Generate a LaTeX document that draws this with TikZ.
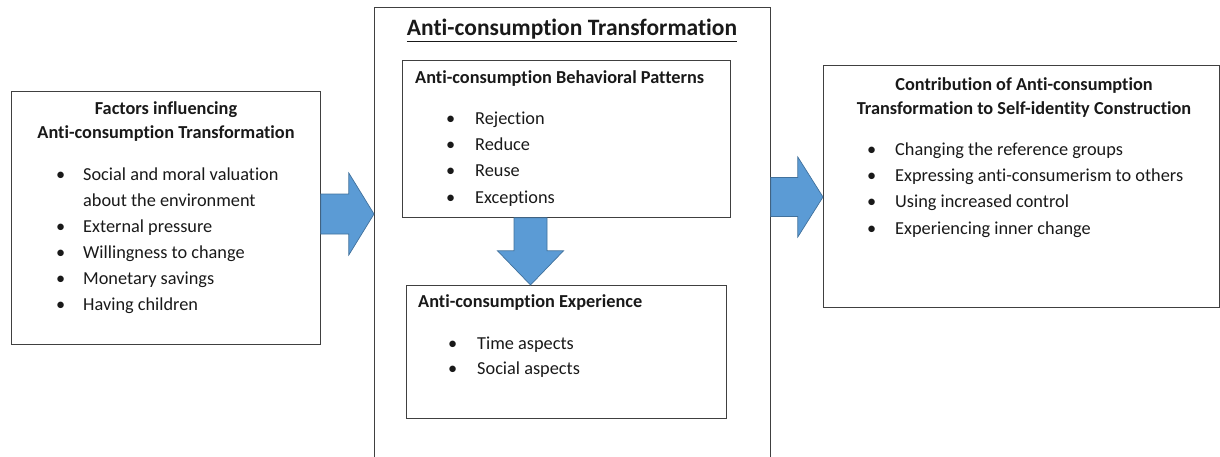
\documentclass[tikz,border=0pt]{standalone}
\usepackage{fontspec}
\setmainfont{Carlito}[Ligatures=NoCommon]
\usetikzlibrary{positioning,calc}

\definecolor{arrowblue}{HTML}{5B9BD5}
\definecolor{arrowedge}{HTML}{41719C}

\tikzset{
  box/.style={draw=black!75, line width=0.8pt, anchor=north west, inner sep=0pt},
  item/.style={anchor=west, inner sep=0pt, text height=1.5ex, text depth=0.3ex,
    font=\fontsize{18.3}{21}\selectfont, text=black!90},
  head/.style={inner sep=0pt, text height=1.5ex, text depth=0.3ex,
    font=\bfseries\fontsize{18.3}{21}\selectfont, text=black!90},
  blockarrow/.style={fill=arrowblue, draw=arrowedge, line width=0.7pt},
}

\begin{document}
\begin{tikzpicture}[x=1pt,y=-1pt]
    \useasboundingbox (0,0) rectangle (1220,456);
    % boxes
    \node[box, minimum width=309pt, minimum height=253pt] (factors) at (11,91) {};
    \node[box, minimum width=396pt, minimum height=470pt] (mid) at (374,7) {};
    \node[box, minimum width=328pt, minimum height=157pt] (patterns) at (402,60) {};
    \node[box, minimum width=320pt, minimum height=133pt] (experience) at (406,285) {};
    \node[box, minimum width=396pt, minimum height=242pt] (contrib) at (823,65) {};

    % title of the middle box
    \node[head, font=\bfseries\fontsize{23.5}{26}\selectfont] (midtitle) at (572,33)
        {\underline{Anti-consumption Transformation}};

    % left box
    \node[head] (facthead1) at (166,112) {Factors influencing};
    \node[head] (facthead2) at (166,136) {Anti-consumption Transformation};
    \foreach \txt [count=\i] in {Social and moral valuation, External pressure,
        Willingness to change, Monetary savings, Having children} {
        \pgfmathsetmacro{\yy}{\i==1 ? 177.5 : 203.5+26*(\i-1)}
        \node[item] (factbul\i) at (56,\yy) {\textbullet};
        \node[item] (fact\i) at (83,\yy) {\txt};
    }
    \node[item] (fact1b) at (83,203.5) {about the environment};

    % behavioral patterns
    \node[head, anchor=west] (pathead) at (415,81) {Anti-consumption Behavioral Patterns};
    \foreach \txt [count=\i] in {Rejection, Reduce, Reuse, Exceptions} {
        \node[item] (patbul\i) at (446,{121.5+26.3*(\i-1)}) {\textbullet};
        \node[item] (pat\i) at (475,{121.5+26.3*(\i-1)}) {\txt};
    }

    % experience
    \node[head, anchor=west] (exphead) at (418,305) {Anti-consumption Experience};
    \foreach \txt [count=\i] in {Time aspects, Social aspects} {
        \node[item] (expbul\i) at (448,{346.5+25.5*(\i-1)}) {\textbullet};
        \node[item] (exp\i) at (477,{346.5+25.5*(\i-1)}) {\txt};
    }

    % right box
    \node[head] (conhead1) at (1024,88) {Contribution of Anti-consumption};
    \node[head] (conhead2) at (1024,112) {Transformation to Self-identity Construction};
    \foreach \txt [count=\i] in {Changing the reference groups,
        Expressing anti-consumerism to others, Using increased control,
        Experiencing inner change} {
        \node[item] (conbul\i) at (867,{152.5+26.3*(\i-1)}) {\textbullet};
        \node[item] (con\i) at (895,{152.5+26.3*(\i-1)}) {\txt};
    }

    % block arrows
    \coordinate (a1s) at (factors.east |- 0,214);
    \coordinate (a1e) at (mid.west |- 0,214);
    \draw[blockarrow] ($(a1s)+(0,-20)$) -- ($(a1s)+(28,-20)$) -- ($(a1s)+(28,-41)$)
        -- (a1e) -- ($(a1s)+(28,41)$) -- ($(a1s)+(28,20)$) -- ($(a1s)+(0,20)$) -- cycle;

    \coordinate (a2s) at (mid.east |- 0,197);
    \coordinate (a2e) at (contrib.west |- 0,197);
    \draw[blockarrow] ($(a2s)+(0,-19.5)$) -- ($(a2s)+(27,-19.5)$) -- ($(a2s)+(27,-40)$)
        -- (a2e) -- ($(a2s)+(27,40)$) -- ($(a2s)+(27,19.5)$) -- ($(a2s)+(0,19.5)$) -- cycle;

    \coordinate (a3s) at (patterns.south -| 530.5,0);
    \coordinate (a3e) at (experience.north -| 530.5,0);
    \draw[blockarrow] ($(a3s)+(-16.5,0)$) -- ($(a3s)+(-16.5,33)$) -- ($(a3s)+(-33,33)$)
        -- (a3e) -- ($(a3s)+(33,33)$) -- ($(a3s)+(16.5,33)$) -- ($(a3s)+(16.5,0)$) -- cycle;
\end{tikzpicture}
\end{document}
